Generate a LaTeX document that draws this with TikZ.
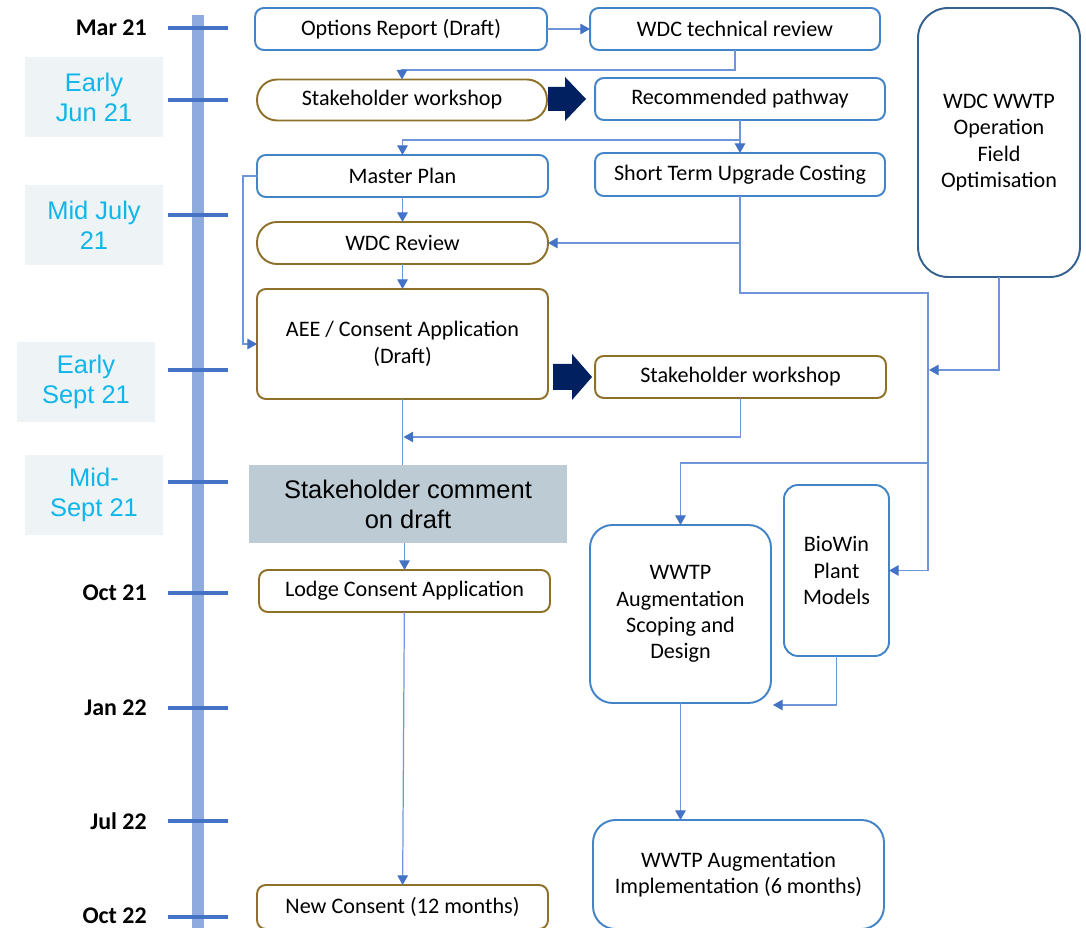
\documentclass[tikz,border=0pt]{standalone}
\usepackage{fontspec}
\setmainfont{Carlito}
\newfontfamily\arialfont{Liberation Sans}
\usepackage{xcolor}
\usepackage{tikz}
\usetikzlibrary{arrows.meta, positioning, calc}
\definecolor{planblue}{HTML}{4383C8}
\definecolor{opsblue}{HTML}{35618F}
\definecolor{planGold}{HTML}{8E7128}
\definecolor{linkblue}{HTML}{6E95DA}
\definecolor{tipblue}{HTML}{4472C4}
\definecolor{barblue}{HTML}{8FAADC}
\definecolor{navyarrow}{HTML}{002060}
\definecolor{phasefill}{HTML}{EEF3F6}
\definecolor{phasecyan}{HTML}{10B6EA}
\definecolor{commentfill}{HTML}{BDCCD4}

\begin{document}
\begin{tikzpicture}[
    x=0.02cm, y=-0.02cm,
    box/.style={
      rectangle, draw=planblue, rounded corners=5pt, line width=1.1pt,
      minimum width=5.82cm, minimum height=0.84cm, inner sep=2pt, outer sep=0pt,
      align=center, font=\fontsize{12.6}{15}\selectfont
    },
    goldbox/.style={box, draw=planGold},
    pill/.style={box, draw=planGold, rounded corners=0.4cm},
    bigbox/.style={box, rounded corners=0.45cm},
    phase/.style={
      rectangle, fill=phasefill, text=phasecyan, minimum width=2.76cm, minimum height=1.6cm,
      align=center, inner sep=1pt, font=\arialfont\fontsize{14.5}{17}\selectfont
    },
    datelbl/.style={anchor=east, inner sep=0pt, font=\fontsize{13.6}{15}\selectfont\bfseries},
    comment/.style={
      rectangle, fill=commentfill, minimum width=6.36cm, minimum height=1.56cm,
      align=center, inner sep=1pt, font=\arialfont\fontsize{14.5}{17}\selectfont
    },
    timebar/.style={barblue, line width=6.8pt},
    tick/.style={tipblue, line width=2.3pt},
    link/.style={linkblue, line width=0.7pt},
    arrow/.style={link, -{Triangle[length=5.5pt, width=6pt, color=tipblue]}},
    fatarrow/.style={fill=navyarrow},
]
  \useasboundingbox (0,0) rectangle (1086,928);

  \coordinate (ttop) at (198,15);
  \coordinate (tbot) at (198,932);
  \draw[timebar] (ttop) -- (tbot);
  \foreach \y in {28,100,215,370,482,593,708,821,917}
    \draw[tick] (168,\y) -- (228,\y);

  \foreach \y/\m in {28/Mar 21, 593/Oct 21, 708/Jan 22, 821/Jul 22, 916/Oct 22}
    \node[datelbl] (d\y) at (147,\y) {\m};
  \node[phase] (pjun) at (94,97) {Early\\Jun 21};
  \node[phase] (pjul) at (94,225) {Mid July\\21};
  \node[phase] (psepa) at (86,382) {Early\\Sept 21};
  \node[phase] (psepb) at (94,495) {Mid-\\Sept 21};

  \node[box, minimum width=5.84cm] (optrep) at (401,29) {Options Report (Draft)};
  \node[box, minimum width=5.8cm] (techrev) at (735,29) {WDC technical review};
  \node[pill, minimum width=5.8cm, minimum height=0.82cm] (sws1) at (402,100) {Stakeholder workshop};
  \node[box, minimum width=5.8cm] (recpath) at (740,99) {Recommended pathway};
  \node[box] (master) at (402.5,176) {Master Plan};
  \node[box, minimum width=5.8cm, minimum height=0.86cm] (stuc) at (740,174.5) {Short Term Upgrade Costing};
  \node[pill] (wdcrev) at (402.5,243) {WDC Review};
  \node[bigbox, draw=opsblue, minimum width=3.24cm, minimum height=5.38cm, rounded corners=0.6cm] (wdcops) at (999,142.5) {WDC WWTP\\Operation\\Field\\Optimisation};
  \node[goldbox, minimum height=2.2cm] (aee) at (402.5,344) {AEE / Consent Application\\(Draft)};
  \node[goldbox] (sws2) at (740.5,377) {Stakeholder workshop};
  \node[comment] (comment) at (408,504) {Stakeholder comment\\on draft};
  \node[goldbox] (lodge) at (404.5,591) {Lodge Consent Application};
  \node[goldbox, minimum height=0.88cm] (newcons) at (402.5,907) {New Consent (12 months)};
  \node[bigbox, minimum width=3.62cm, minimum height=3.56cm] (scoping) at (680.5,614) {WWTP\\Augmentation\\Scoping and\\Design};
  \node[bigbox, minimum width=2.1cm, minimum height=3.42cm, rounded corners=0.28cm] (biowin) at (836.5,570.5) {BioWin\\Plant\\Models};
  \node[bigbox, minimum width=5.82cm, minimum height=2.18cm] (impl) at (738.5,874.5) {WWTP Augmentation\\Implementation (6 months)};

  \fill[fatarrow] (recpath.west) ++(-9,0) -- ++(-21,-22) -- ++(0,10) -- ++(-17,0) -- ++(0,24) -- ++(17,0) -- ++(0,10) -- cycle;
  \fill[fatarrow] (sws2.west) ++(-3,0) -- ++(-20,-23) -- ++(0,10) -- ++(-19,0) -- ++(0,26) -- ++(19,0) -- ++(0,10) -- cycle;

  \coordinate (busTop) at (928,293);
  \coordinate (busMid) at (928,463);
  \coordinate (optIn) at (929,370);
  \coordinate (joinIn) at (403.5,437);
  \coordinate (bioIn) at (773,705);

  \draw[arrow] (optrep) -- (techrev);
  \draw[arrow] (techrev.south) -- ++(0,20) -| (sws1.north);
  \draw[arrow] (recpath) -- (stuc);
  \draw[arrow] (recpath.south) -- ++(0,20) -| (master.north);
  \draw[arrow] (master) -- (wdcrev);
  \draw[arrow] (wdcrev) -- (aee);
  \draw[arrow] (master.west) -- ++(-14,0) |- (aee.west);
  \draw[arrow] (stuc.south) |- (wdcrev.east);
  \draw[link] (stuc.south) |- (busTop) -- (busMid);
  \draw[arrow] (wdcops.south) |- (optIn);
  \draw[arrow] (busMid) -| (scoping.north);
  \draw[arrow] (busMid) |- (biowin.east);
  \draw[link] (aee.south) -- (aee.south |- comment.north);
  \draw[arrow] (sws2.south) |- (joinIn);
  \draw[arrow] (lodge.north |- comment.south) -- (lodge.north);
  \draw[arrow] (lodge) -- (newcons);
  \draw[arrow] (scoping.south) -- (scoping.south |- impl.north);
  \draw[arrow] (biowin.south) |- (bioIn);
\end{tikzpicture}
\end{document}
